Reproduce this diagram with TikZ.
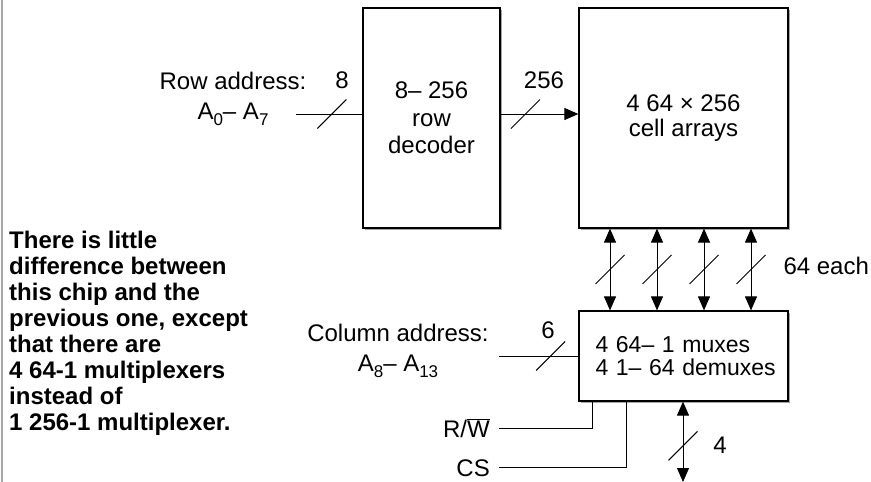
\documentclass[tikz,border=0pt]{standalone}
\usepackage{fontspec}
\setmainfont{Liberation Sans}
\usetikzlibrary{arrows.meta,decorations.markings,shadows}

\newcommand{\idx}[1]{\raisebox{-6pt}{\fontsize{17}{17}\selectfont #1}}

\begin{document}
\begin{tikzpicture}[
  x=1pt, y=-1pt,
  font=\fontsize{24}{29.5}\selectfont,
  box/.style={rectangle, draw, line width=1.2pt, fill=white, align=center,
    drop shadow={shadow xshift=1.8pt, shadow yshift=-1.8pt, opacity=1, fill=gray!70}},
  wire/.style={line width=1pt},
  bus/.style={line width=1pt, arrows={-}},
  tip/.style={-{Triangle[length=14pt,width=12pt]}},
  tips/.style={{Triangle[length=14pt,width=12pt]}-{Triangle[length=14pt,width=12pt]}},
  slash/.style={postaction={decorate, decoration={markings,
    mark=at position #1 with {\pgftransformresetnontranslations
      \draw[line width=1pt, -] (-14.5pt,-14.5pt) -- (14.5pt,14.5pt);}}}}
]
\useasboundingbox (0,0) rectangle (871,482);
\draw[gray!70, line width=1.6pt] (2,0) -- (2,482);

% blocks
\node[box, minimum width=137pt, minimum height=220pt, font=\fontsize{24}{27.5}\selectfont] (dec) at (431.5,118) {8– 256\\row\\decoder};
\node[box, minimum width=209pt, minimum height=220pt, font=\fontsize{24}{25}\selectfont] (cells) at (683.5,118) {4 64 × 256\\cell arrays};
\node[box, minimum width=209pt, minimum height=90pt, text width=176pt, align=left, font=\fontsize{23}{22.5}\selectfont] (mux) at (683.5,356) {\mbox{4 64– 1 muxes}\\\mbox{4 1– 64 demuxes}};

% labels
\node[align=center] (rowaddr) at (233,99) {Row address:\\A\idx{0}– A\idx{7}};
\node[align=center] (coladdr) at (398,351) {Column address:\\A\idx{8}– A\idx{13}};
\node[anchor=base east, inner sep=0pt] (rw) at (490,437) {R/$\overline{\mbox{W}}$};
\node[anchor=base east, inner sep=0pt] (cs) at (490,476) {CS};
\node (nrow) at (342,80) {8};
\node (ndec) at (544,80) {256};
\node (ncol) at (548,330) {6};
\node[anchor=west] (neach) at (780,266) {64 each};
\node (nout) at (720,445) {4};
\node[anchor=north west, inner sep=0pt, align=left, font=\bfseries\fontsize{24}{26}\selectfont] (note) at (9,231)
  {There is little\\difference between\\this chip and the\\previous one, except\\that there are\\4 64-1 multiplexers\\instead of\\1 256-1 multiplexer.};

% free ends
\coordinate (rowin) at (296,114);
\coordinate (colin) at (499,356);
\coordinate (rwin) at (499,428);
\coordinate (csin) at (499,467);
\coordinate (rwx) at (592,0);
\coordinate (csx) at (626,0);
\coordinate (dout) at (683,482);

% connectors
\draw[bus, slash=0.54] (rowin) -- (dec.west |- rowin);
\draw[bus, tip, slash=0.32] (dec.east |- rowin) -- (cells.west |- rowin);
\foreach \x [count=\i] in {610,657,704,751} {
  \coordinate (c\i) at (\x,0);
  \draw[bus, tips, slash=0.5] (cells.south -| c\i) -- (mux.north -| c\i);
}
\draw[bus, slash=0.65] (colin) -- (mux.west |- colin);
\draw[wire] (rwin) -- (rwin -| rwx) -- (mux.south -| rwx);
\draw[wire] (csin) -- (csin -| csx) -- (mux.south -| csx);
\draw[bus, tips, slash=0.55] (mux.south -| dout) -- (dout);
\end{tikzpicture}
\end{document}
